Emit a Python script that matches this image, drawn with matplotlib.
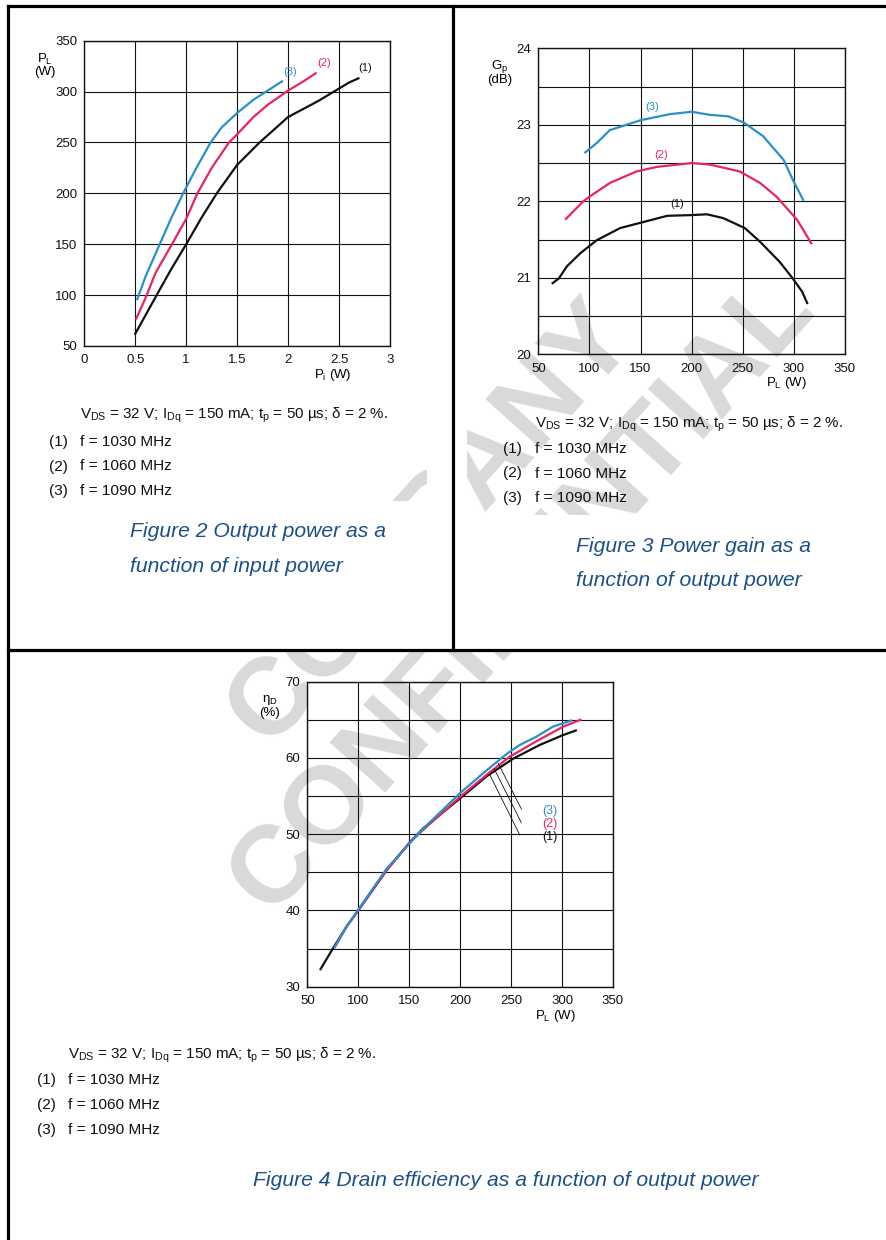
import numpy as np
import matplotlib.pyplot as plt
from matplotlib.lines import Line2D
from matplotlib.patches import Rectangle

plt.rcParams['font.family'] = ['Liberation Sans', 'DejaVu Sans']
plt.rcParams['mathtext.fontset'] = 'custom'
plt.rcParams['mathtext.rm'] = 'Liberation Sans'
plt.rcParams['mathtext.it'] = 'Liberation Sans:italic'
plt.rcParams['mathtext.bf'] = 'Liberation Sans:bold'

# Figure 2: output power vs input power
pi_1 = [0.5, 0.71, 0.85, 1.0, 1.15, 1.3, 1.5, 1.72, 2.0, 2.3, 2.5, 2.6, 2.69]
pl_1 = [62, 100, 125, 150, 176, 200, 228, 250, 275, 291, 303, 309, 313]
pi_2 = [0.51, 0.6, 0.7, 0.86, 1.0, 1.11, 1.25, 1.42, 1.5, 1.66, 1.8, 2.0, 2.15, 2.27]
pl_2 = [77, 97, 122, 150, 175, 200, 225, 250, 258, 275, 287, 301, 310, 318]
pi_3 = [0.52, 0.6, 0.74, 0.85, 0.97, 1.1, 1.24, 1.35, 1.5, 1.66, 1.8, 1.94]
pl_3 = [96, 118, 150, 175, 200, 225, 250, 265, 279, 292, 301, 310]

# Figure 3: power gain vs output power
g_pl_1 = [64, 70, 78, 91, 107, 130, 153, 176, 200, 215, 231, 252, 267, 286, 299, 308, 313]
gp_1 = [20.93, 20.99, 21.15, 21.32, 21.49, 21.65, 21.73, 21.81, 21.82, 21.83, 21.78, 21.65,
        21.47, 21.21, 20.99, 20.82, 20.67]
g_pl_2 = [77, 94, 100, 120, 146, 166, 200, 218, 247, 267, 283, 303, 309, 317]
gp_2 = [21.77, 22.0, 22.06, 22.24, 22.39, 22.45, 22.5, 22.48, 22.39, 22.24, 22.06, 21.76,
        21.63, 21.45]
g_pl_3 = [96, 107, 120, 150, 179, 200, 218, 236, 251, 270, 290, 299, 309]
gp_3 = [22.64, 22.76, 22.93, 23.06, 23.14, 23.17, 23.13, 23.11, 23.03, 22.85, 22.54, 22.28, 22.02]

# Figure 4: drain efficiency vs output power
e_pl_1 = [63, 75.5, 88.6, 100, 128, 151, 164, 200, 226, 252, 278, 301, 313.5]
eff_1 = [32.3, 35.1, 37.9, 40.0, 45.3, 49.0, 50.8, 54.7, 57.6, 59.9, 61.7, 63.0, 63.6]
e_pl_2 = [77, 88.6, 100, 128, 151, 164, 200, 226, 249, 275, 301, 318]
eff_2 = [35.2, 37.9, 40.0, 45.3, 49.0, 50.6, 54.9, 57.8, 60.2, 62.2, 64.1, 65.0]
e_pl_3 = [77, 88.6, 100, 128, 160.5, 200, 222.6, 245.4, 258.5, 275, 291, 309]
eff_3 = [35.2, 37.9, 40.1, 45.5, 50.3, 55.4, 58.0, 60.5, 61.7, 62.8, 64.1, 64.9]

cond = ('$\\mathregular{V_{DS}}$ = 32 V; $\\mathregular{I_{Dq}}$ = 150 mA; '
        '$\\mathregular{t_p}$ = 50 \u00b5s; \u03b4 = 2 %.')
freqs = ['f = 1030 MHz', 'f = 1060 MHz', 'f = 1090 MHz']

black = '#111111'
red = '#e8255c'
blue = '#2a8fcc'
cap_col = '#1a4f8a'

W, H = 886, 1240
fig = plt.figure(figsize=(8.86, 12.4), dpi=100)


def ftxt(x, y, s, **kw):
    return fig.text(x / W, 1 - y / H, s, **kw)


def add_ax(l, t, r, b):
    ax = fig.add_axes([l / W, 1 - b / H, (r - l) / W, (b - t) / H])
    ax.set_facecolor('none')
    for sp in ax.spines.values():
        sp.set_linewidth(1.0)
        sp.set_color(black)
    ax.tick_params(which='both', length=0, labelsize=9.5, colors=black)
    ax.tick_params(axis='x', pad=6)
    ax.tick_params(axis='y', pad=5)
    ax.grid(True, which='both', color=black, lw=0.8)
    ax.set_axisbelow(True)
    return ax


# ---- Figure 2
ax1 = add_ax(84.3, 40.7, 390, 346)
ax1.plot(pi_1, pl_1, color=black, lw=1.6)
ax1.plot(pi_2, pl_2, color=red, lw=1.6)
ax1.plot(pi_3, pl_3, color=blue, lw=1.6)
ax1.set_xlim(0, 3)
ax1.set_ylim(50, 350)
ax1.set_xticks(np.arange(0, 3.01, 0.5))
ax1.set_xticklabels(['0', '0.5', '1', '1.5', '2', '2.5', '3'])
ax1.set_yticks(np.arange(50, 351, 50))
ax1.text(2.02, 319.5, '(3)', color=blue, fontsize=8, ha='center', va='center')
ax1.text(2.35, 328, '(2)', color=red, fontsize=8, ha='center', va='center')
ax1.text(2.76, 323, '(1)', color=black, fontsize=8, ha='center', va='center')
ftxt(45, 65, '$\\mathregular{P_L}$\n(W)', fontsize=9.5, ha='center', va='center', linespacing=0.95)
ftxt(333, 375, '$\\mathregular{P_i}$ (W)', fontsize=9.5, ha='center', va='center')

# ---- Figure 3
ax2 = add_ax(538.3, 48.3, 845, 354.3)
ax2.plot(g_pl_1, gp_1, color=black, lw=1.6)
ax2.plot(g_pl_2, gp_2, color=red, lw=1.6)
ax2.plot(g_pl_3, gp_3, color=blue, lw=1.6)
ax2.set_xlim(50, 350)
ax2.set_ylim(20, 24)
ax2.set_xticks(np.arange(50, 351, 50))
ax2.set_yticks(np.arange(20, 24.1, 1))
ax2.set_yticks(np.arange(20.5, 24, 1), minor=True)
ax2.text(161, 23.23, '(3)', color=blue, fontsize=8, ha='center', va='center')
ax2.text(170.6, 22.6, '(2)', color=red, fontsize=8, ha='center', va='center')
ax2.text(186, 21.97, '(1)', color=black, fontsize=8, ha='center', va='center')
ftxt(500, 72, '$\\mathregular{G_p}$\n(dB)', fontsize=9.5, ha='center', va='center', linespacing=0.95)
ftxt(786, 383, '$\\mathregular{P_L}$ (W)', fontsize=9.5, ha='center', va='center')

# ---- Figure 4
ax3 = add_ax(307.3, 681.7, 613, 986.7)
ax3.plot(e_pl_1, eff_1, color=black, lw=1.6)
ax3.plot(e_pl_2, eff_2, color=red, lw=1.6)
ax3.plot(e_pl_3, eff_3, color=blue, lw=1.6)
ax3.set_xlim(50, 350)
ax3.set_ylim(30, 70)
ax3.set_xticks(np.arange(50, 351, 50))
ax3.set_yticks(np.arange(30, 71, 10))
ax3.set_yticks(np.arange(35, 70, 10), minor=True)
ax3.plot([260.1, 237.3], [53.3, 59.3], color=black, lw=0.6)
ax3.plot([260.1, 233.3], [51.5, 58.6], color=black, lw=0.6)
ax3.plot([258.5, 229.1], [49.9, 57.8], color=black, lw=0.6)
ax3.text(287.6, 53.1, '(3)', color=blue, fontsize=9, ha='center', va='center')
ax3.text(287.6, 51.3, '(2)', color=red, fontsize=9, ha='center', va='center')
ax3.text(287.6, 49.6, '(1)', color=black, fontsize=9, ha='center', va='center')
ftxt(270, 706, '$\\mathregular{\u03b7_D}$\n(%)', fontsize=9.5, ha='center', va='center', linespacing=0.95)
ftxt(555, 1016, '$\\mathregular{P_L}$ (W)', fontsize=9.5, ha='center', va='center')

# ---- condition text and captions
blocks = [(80, 49, 415, 442, 24.5), (535, 503, 424, 449, 24.5), (68, 37, 1055, 1080, 25)]
for cx, nx, cy, fy, step in blocks:
    ftxt(cx, cy, cond, fontsize=10.9, va='center', color=black)
    for i, f in enumerate(freqs):
        ftxt(nx, fy + i * step, '(%d)' % (i + 1), fontsize=11.1, va='center', color=black)
        ftxt(cx, fy + i * step, f, fontsize=11.1, va='center', color=black)

cap_kw = dict(fontsize=15.2, style='italic', color=cap_col, va='center')
ftxt(130, 532, 'Figure 2 Output power as a', **cap_kw)
ftxt(130, 566, 'function of input power', **cap_kw)
ftxt(576, 547, 'Figure 3 Power gain as a', **cap_kw)
ftxt(576, 580, 'function of output power', **cap_kw)
ftxt(253, 1180, 'Figure 4 Drain efficiency as a function of output power', **cap_kw)

# ---- table frame
frame = [((8, 886), (6, 6)), ((8, 8), (6, 1240)), ((453, 453), (6, 650)), ((8, 886), (650, 650))]
for xs, ys in frame:
    fig.add_artist(Line2D([x / W for x in xs], [1 - y / H for y in ys],
                          transform=fig.transFigure, color='black', lw=2.3))

# ---- watermark, only shown in some regions
windows = [(8, 6, 427, 501), (467, 6, 886, 515), (8, 652, 886, 1240)]
for l, t, r, b in windows:
    rect = Rectangle((l / W, 1 - b / H), (r - l) / W, (b - t) / H,
                     transform=fig.transFigure, visible=False)
    fig.add_artist(rect)
    for word, (wx, wy) in [('COMPANY', (432, 524)), ('CONFIDENTIAL', (522, 594))]:
        t_ = ftxt(wx, wy, word, fontsize=79, fontweight='bold', color='#d9d9d9',
                  ha='center', va='center', rotation=48, rotation_mode='anchor', zorder=-1)
        t_.set_clip_path(rect)

fig.savefig('out.png', dpi=100)
